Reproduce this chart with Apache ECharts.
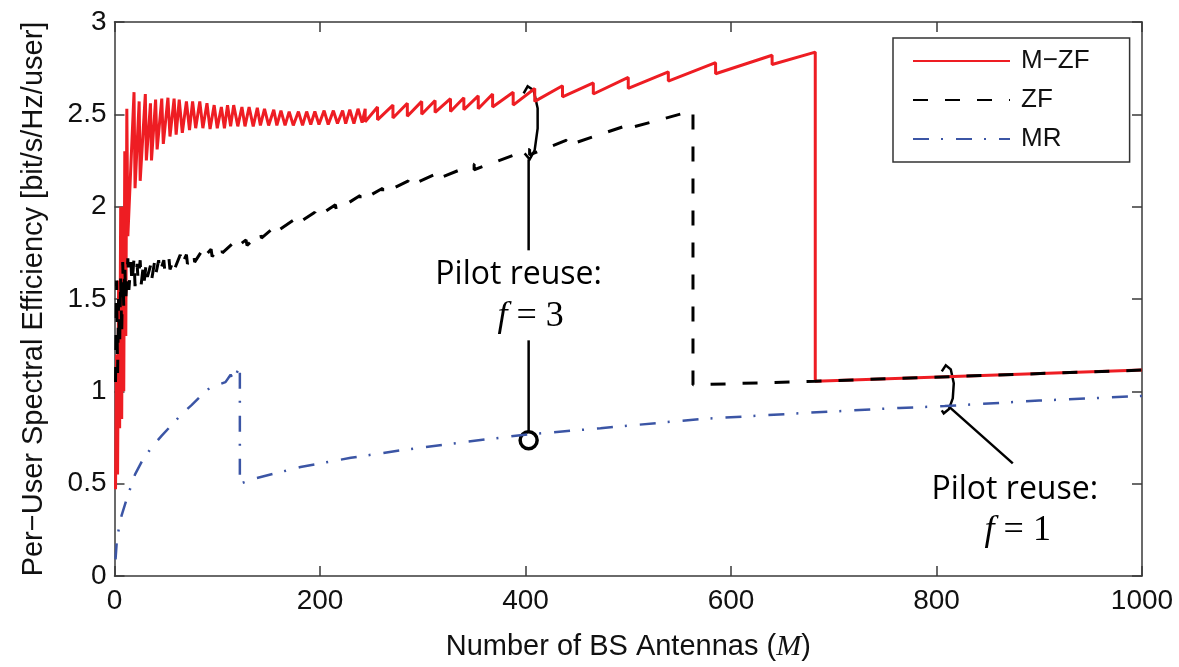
<!DOCTYPE html>
<html>
<head>
<meta charset="utf-8">
<title>Per-User Spectral Efficiency</title>
<script src="https://cdn.jsdelivr.net/npm/echarts@6/dist/echarts.min.js"></script>
<style>
  html, body { margin: 0; padding: 0; background: #fff; }
  #main { width: 1179px; height: 667px; }
</style>
</head>
<body>
<div id="main"></div>
<script>
// values: number of BS antennas M and spectral efficiency
var mzfM = [1, 2, 3, 4, 5, 6, 7, 8, 9, 10, 11, 12, 13, 19, 20, 24, 25, 30, 31, 35, 36, 40, 41.5, 46, 47.5,
  52, 54, 58, 60, 63, 66, 70, 73, 76, 79, 83, 86, 90, 93, 97, 100, 104, 107, 110, 113, 116, 120,
  124, 127, 131, 135, 139, 142, 146, 150, 155, 158, 162, 166, 170, 174, 179, 183, 187, 191, 195, 199,
  204, 208, 213, 217, 222, 225, 229, 233, 237, 241,
  244, 244, 256, 256, 271, 271, 285, 285, 299, 299, 312, 312, 327, 327, 340, 340, 354, 354, 368, 368,
  388, 388, 409, 409, 436, 436, 466, 466, 500, 500, 539, 539, 585, 585, 640, 640, 682, 682, 1000];
var mzfSE = [0.47, 1.2, 0.55, 1.6, 0.8, 2.0, 0.85, 2.0, 1.0, 2.3, 1.3, 2.53, 1.84, 2.62, 2.10, 2.57, 2.14, 2.61, 2.25, 2.56, 2.25, 2.58, 2.31, 2.585, 2.34,
  2.59, 2.38, 2.585, 2.39, 2.58, 2.40, 2.57, 2.415, 2.57, 2.425, 2.57, 2.425, 2.56, 2.42, 2.55, 2.425, 2.54, 2.425, 2.55, 2.435, 2.55, 2.435,
  2.54, 2.435, 2.54, 2.435, 2.535, 2.44, 2.53, 2.44, 2.525, 2.44, 2.52, 2.44, 2.515, 2.44, 2.515, 2.44, 2.515, 2.445, 2.515, 2.445,
  2.52, 2.445, 2.52, 2.45, 2.52, 2.45, 2.525, 2.45, 2.53, 2.455,
  2.53, 2.46, 2.54, 2.47, 2.55, 2.48, 2.56, 2.49, 2.57, 2.50, 2.575, 2.51, 2.585, 2.515, 2.59, 2.525, 2.60, 2.53, 2.61, 2.54,
  2.62, 2.55, 2.64, 2.57, 2.655, 2.595, 2.67, 2.61, 2.70, 2.64, 2.73, 2.68, 2.78, 2.72, 2.82, 2.77, 2.837, 1.055, 1.115];

var zfM = [1, 2, 3, 4, 5, 6, 7, 8, 9, 10, 11, 13, 14, 16, 17, 19, 20, 22, 23, 25, 26, 28, 29, 31, 32, 35, 36, 39, 40,
  43, 44, 48, 49, 53, 54, 58, 59, 64, 65, 70, 71, 77, 78, 85, 86, 94, 95, 104, 105, 115, 116, 128, 129,
  142, 143, 158, 159, 175, 176, 195, 196, 215, 216, 239, 239, 261, 261, 286, 286, 314, 314, 350, 350,
  404, 404, 440, 440, 504, 504, 563, 563, 682, 1000];
var zfSE = [1.05, 1.6, 1.1, 1.5, 1.25, 1.62, 1.3, 1.7, 1.45, 1.68, 1.5, 1.72, 1.55, 1.70, 1.58, 1.72, 1.57, 1.69, 1.6, 1.71, 1.58, 1.68, 1.6, 1.70, 1.62, 1.68, 1.6, 1.70, 1.63,
  1.71, 1.64, 1.71, 1.65, 1.72, 1.66, 1.72, 1.67, 1.74, 1.68, 1.74, 1.69, 1.75, 1.70, 1.76, 1.72, 1.77, 1.73, 1.79, 1.75, 1.80, 1.77, 1.82, 1.79,
  1.86, 1.83, 1.90, 1.87, 1.93, 1.90, 1.97, 1.94, 2.01, 1.98, 2.06, 2.03, 2.10, 2.07, 2.14, 2.11, 2.18, 2.15, 2.23, 2.20,
  2.31, 2.28, 2.36, 2.33, 2.45, 2.43, 2.52, 1.035, 1.055, 1.115];

var mrM = [1, 2, 4, 7, 12, 20, 28, 38, 46, 56, 66, 75, 83, 93, 103, 108, 113, 116, 122, 122, 138, 181, 230, 278,
  340, 402, 473, 570, 672, 764, 808, 900, 1000];
var mrSE = [0.09, 0.17, 0.25, 0.33, 0.42, 0.55, 0.635, 0.71, 0.76, 0.82, 0.88, 0.925, 0.97, 1.02, 1.04, 1.05, 1.09, 1.06, 1.14, 0.50, 0.53, 0.59, 0.64, 0.68,
  0.725, 0.767, 0.80, 0.85, 0.883, 0.91, 0.92, 0.95, 0.975];

var xTicks = { min: 0, max: 1000, interval: 200 };
var yTicks = { min: 0, max: 3, interval: 0.5 };

function pairs(xs, ys) {
  return xs.map(function (x, i) { return [x, ys[i]]; });
}

var FONT = 'Liberation Sans';
var axisColor = '#3a3a3a';

function frameAxis(base, pos, showLabel) {
  return Object.assign({
    type: 'value',
    position: pos,
    axisLine: { show: true, onZero: false, lineStyle: { color: axisColor, width: 1.5 } },
    axisTick: { show: true, inside: true, length: 10, lineStyle: { color: axisColor, width: 1.5 } },
    axisLabel: { show: showLabel, fontSize: 28, fontFamily: FONT, color: '#111', formatter: function (v) { return String(v); } },
    splitLine: { show: false }
  }, base);
}

var xBottom = frameAxis(xTicks, 'bottom', true);
xBottom.axisLabel.margin = 11;
xBottom.name = 'Number of BS Antennas ({m|M})';
xBottom.nameLocation = 'middle';
xBottom.nameGap = 56;
xBottom.nameTextStyle = {
  fontSize: 29, fontFamily: FONT, color: '#111',
  rich: { m: { fontSize: 30, fontFamily: 'Liberation Serif', fontStyle: 'italic', color: '#111' } }
};

var yLeft = frameAxis(yTicks, 'left', true);
yLeft.axisLabel.margin = 8;
yLeft.name = 'Per\u2212User Spectral Efficiency [bit/s/Hz/user]';
yLeft.nameLocation = 'middle';
yLeft.nameGap = 66;
yLeft.nameTextStyle = { fontSize: 29, fontFamily: FONT, color: '#111' };

var chart = echarts.init(document.getElementById('main'));

chart.setOption({
  animation: false,
  backgroundColor: '#fff',
  grid: { left: 114.5, right: 37, top: 22, bottom: 81, containLabel: false },
  legend: {
    orient: 'vertical',
    left: 893,
    top: 38,
    padding: [8, 40, 8, 19],
    itemGap: 9,
    itemWidth: 97,
    itemHeight: 14,
    backgroundColor: '#fff',
    borderColor: '#333',
    borderWidth: 1.5,
    borderRadius: 0,
    itemStyle: { opacity: 0 },
    textStyle: { fontSize: 26, fontFamily: FONT, color: '#111', lineHeight: 30, padding: [0, 0, 0, 6] },
    data: ['M\u2212ZF', 'ZF', 'MR']
  },
  xAxis: [xBottom, frameAxis(xTicks, 'top', false)],
  yAxis: [yLeft, frameAxis(yTicks, 'right', false)],
  series: [
    {
      name: 'M\u2212ZF',
      type: 'line',
      symbol: 'none',
      data: pairs(mzfM, mzfSE),
      lineStyle: { color: '#ee1d23', width: 3 },
      itemStyle: { color: '#ee1d23' }
    },
    {
      name: 'ZF',
      type: 'line',
      symbol: 'none',
      data: pairs(zfM, zfSE),
      lineStyle: { color: '#000', width: 3, type: [15, 17] },
      itemStyle: { color: '#000' }
    },
    {
      name: 'MR',
      type: 'line',
      symbol: 'none',
      data: pairs(mrM, mrSE),
      lineStyle: { color: '#3b55a5', width: 2.5, type: [16, 12, 2, 13] },
      itemStyle: { color: '#3b55a5' }
    }
  ]
});

// annotations, placed relative to points on the axes
function toPx(m, se) { return chart.convertToPixel({ gridIndex: 0 }, [m, se]); }
function shift(base, pts) { return pts.map(function (p) { return [base[0] + p[0], base[1] + p[1]]; }); }

var ink = { stroke: '#000', lineWidth: 2.5, fill: null };
var b1 = toPx(405, 2.5);
var b2 = toPx(810, 1.0);

var textSans = { fontSize: 32, fontFamily: 'Open Sans', fill: '#000', textAlign: 'center', textVerticalAlign: 'middle' };
var textMath = {
  fontSize: 36, fontFamily: 'Liberation Serif', fill: '#000', textAlign: 'center', textVerticalAlign: 'middle',
  rich: { it: { fontSize: 36, fontFamily: 'Liberation Serif', fontStyle: 'italic' } }
};

chart.setOption({
  graphic: [
    { type: 'polyline', smooth: 0.5, shape: { points: shift(b1, [[-7, -21], [-3, -28], [3, -24], [7, -6], [7, 14], [4, 36], [-1, 45], [-6, 39]]) }, style: ink },
    { type: 'line', shape: { x1: b1[0] - 2, y1: b1[1] + 45, x2: b1[0] - 2, y2: b1[1] + 136 }, style: ink },
    { type: 'text', style: Object.assign({ text: 'Pilot reuse:', x: b1[0] - 12, y: b1[1] + 161 }, textSans) },
    { type: 'text', style: Object.assign({ text: '{it|f} = 3', x: b1[0], y: b1[1] + 202 }, textMath) },
    { type: 'line', shape: { x1: b1[0] - 2, y1: b1[1] + 226, x2: b1[0] - 2, y2: b1[1] + 317 }, style: ink },
    { type: 'circle', shape: { cx: b1[0] - 2, cy: b1[1] + 326, r: 8.5 }, style: { stroke: '#000', lineWidth: 3.5, fill: null } },

    { type: 'polyline', smooth: 0.5, shape: { points: shift(b2, [[-5, -20], [-1, -26], [4, -22], [7, -8], [6, 7], [2, 18], [-3, 22], [-5, 19]]) }, style: ink },
    { type: 'line', shape: { x1: b2[0] + 3, y1: b2[1] + 16, x2: b2[0] + 66, y2: b2[1] + 72 }, style: ink },
    { type: 'text', style: Object.assign({ text: 'Pilot reuse:', x: b2[0] + 68, y: b2[1] + 99 }, textSans) },
    { type: 'text', style: Object.assign({ text: '{it|f} = 1', x: b2[0] + 71, y: b2[1] + 139 }, textMath) }
  ]
});
</script>
</body>
</html>
